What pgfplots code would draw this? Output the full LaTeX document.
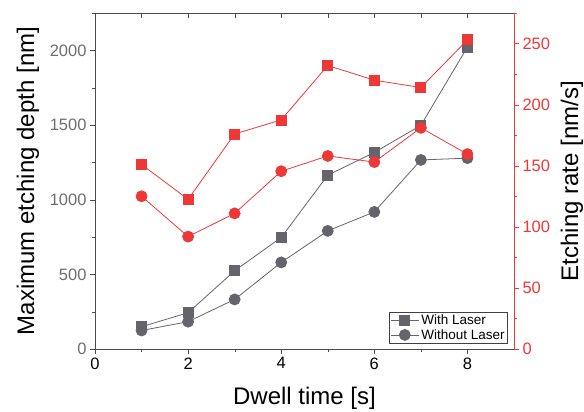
\documentclass[border=0pt]{standalone}
\usepackage{fontspec}
\setmainfont{Liberation Sans}
\usepackage{pgfplots}
\pgfplotsset{compat=1.18}
\definecolor{dgray}{RGB}{100,100,106}
\definecolor{lgray}{RGB}{110,110,110}
\definecolor{dred}{RGB}{238,56,56}

\begin{document}
\begin{tikzpicture}
\pgfplotsset{
  base/.style={
    width=419pt, height=336pt, scale only axis,
    xmin=0, xmax=9,
    /pgf/number format/assume math mode=true,
    /pgf/number format/1000 sep={},
    tick label style={font=\fontsize{16.5}{19}\selectfont},
    major tick length=5pt, minor tick length=3pt,
    x axis line style={-}, y axis line style={-},
  }
}
% depth axis (left)
\begin{axis}[base, name=a,
  ymin=0, ymax=2250,
  axis x line*=bottom, axis y line*=left,
  tick align=outside,
  xtick={0,2,4,6,8}, minor xtick={1,3,5,7},
  ytick={0,500,...,2000}, minor ytick={250,750,...,2250},
  every axis x label/.style={at={(axis description cs:0.5,-0.146)},anchor=center,
    font=\fontsize{24}{27}\selectfont},
  every axis y label/.style={at={(axis description cs:-0.16,0.5)},rotate=90,anchor=center,
    font=\fontsize{24}{27}\selectfont},
  xlabel={Dwell time [s]},
  ylabel={Maximum etching depth [nm]},
  y tick label style={text=lgray},
  axis line style={black!70},
  tick style={black!70},
  legend style={at={(0.986,0.015)},anchor=south east,
    font=\fontsize{13.5}{16}\selectfont, draw=black!75, line width=0.8pt,
    inner sep=1pt, row sep=-1pt},
  legend cell align=left,
  legend image code/.code={\draw[mark repeat=2,mark phase=2]
    plot coordinates {(0cm,0cm)(0.5cm,0cm)(1.0cm,0cm)};},
]
\addplot[dgray, line width=0.8pt, mark=square*, mark size=5pt] coordinates {
  (1,149)(2,243)(3,524)(4,747)(5,1164)(6,1316)(7,1498)(8,2022)};
\addplot[dgray, line width=0.8pt, mark=*, mark size=5.5pt] coordinates {
  (1,124)(2,183)(3,332)(4,580)(5,791)(6,918)(7,1266)(8,1278)};
\legend{With Laser, Without Laser}
\end{axis}
% top frame
\begin{axis}[base,
  ymin=0, ymax=1,
  axis x line*=top, axis y line=none,
  tick align=inside,
  xtick={0,...,8}, xticklabels={},
  axis line style={black!70}, tick style={black!70},
]
\end{axis}
% rate axis (right)
\begin{axis}[base,
  ymin=0, ymax=275,
  axis x line=none, axis y line*=right,
  tick align=outside,
  ytick={0,50,...,250}, minor ytick={25,75,...,275},
  every axis y label/.style={at={(axis description cs:1.138,0.5)},rotate=90,anchor=center,
    font=\fontsize{24}{27}\selectfont},
  ylabel={Etching rate [nm/s]},
  y axis line style={dred}, y tick style={dred},
  y tick label style={text=dred},
]
\addplot[dred, line width=0.8pt, mark=square*, mark size=5pt] coordinates {
  (1,151)(2,122.5)(3,176)(4,187.5)(5,232)(6,220)(7,214)(8,253)};
\addplot[dred, line width=0.8pt, mark=*, mark size=5.5pt] coordinates {
  (1,125)(2,92)(3,111)(4,145.5)(5,158)(6,153)(7,181)(8,159.5)};
\end{axis}
\pgfresetboundingbox
\path ([xshift=-95pt,yshift=-62pt]a.south west) rectangle ([xshift=70pt,yshift=13pt]a.north east);
\end{tikzpicture}
\end{document}
